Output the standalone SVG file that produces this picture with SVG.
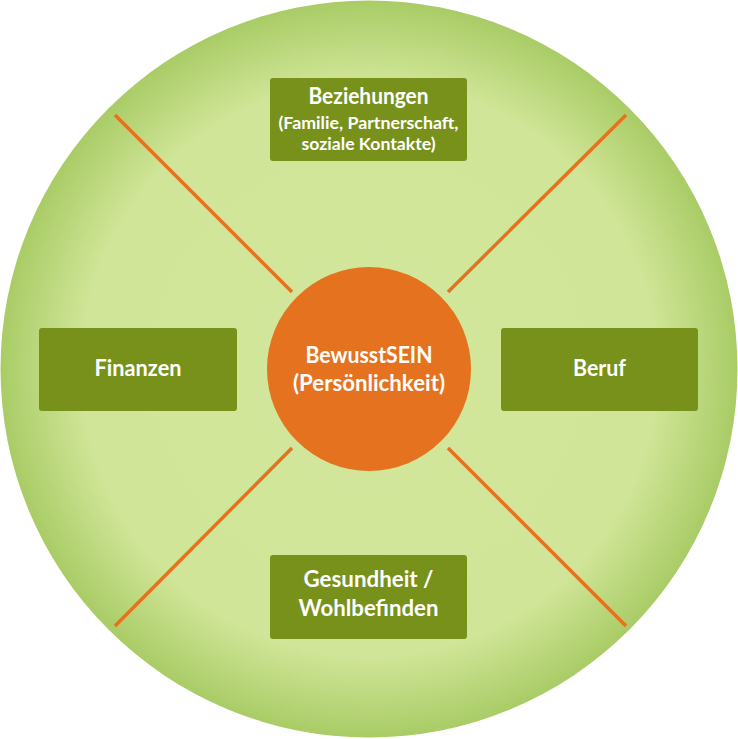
<svg xmlns="http://www.w3.org/2000/svg" width="738" height="739" viewBox="0 0 738 739">
<style>
.box{fill:#77911a;}
.t{font-family:"Lato","Open Sans","Liberation Sans",sans-serif;font-weight:bold;fill:#ffffff;text-anchor:middle;}
.big{font-size:22px;}
.small{font-size:17.5px;}
.ln{stroke:#e5721e;stroke-width:3.5;fill:none;}
</style>
<defs>
<radialGradient id="bg" cx="369" cy="369" r="369" gradientUnits="userSpaceOnUse">
<stop offset="0" stop-color="#d3e79c"/>
<stop offset="0.78" stop-color="#d0e597"/>
<stop offset="1" stop-color="#a9cc66"/>
</radialGradient>
</defs>
<circle id="background" cx="369" cy="369" r="368.5" fill="url(#bg)"/>
<g id="connectors">
<line class="ln" x1="115" y1="115" x2="292" y2="292"/>
<line class="ln" x1="626" y1="115" x2="448" y2="292"/>
<line class="ln" x1="115" y1="626" x2="292" y2="448"/>
<line class="ln" x1="626" y1="626" x2="448" y2="448"/>
</g>
<g id="center">
<circle cx="369" cy="369" r="102" fill="#e5721e"/>
<text class="t big" x="369" y="363" textLength="127" lengthAdjust="spacingAndGlyphs">BewusstSEIN</text>
<text class="t big" x="369" y="391" textLength="152" lengthAdjust="spacingAndGlyphs">(Persönlichkeit)</text>
</g>
<g id="beziehungen">
<rect class="box" x="270" y="78" width="197" height="83" rx="3"/>
<text class="t big" x="368.5" y="104" textLength="120" lengthAdjust="spacingAndGlyphs">Beziehungen</text>
<text class="t small" x="368.5" y="129" textLength="180" lengthAdjust="spacingAndGlyphs">(Familie, Partnerschaft,</text>
<text class="t small" x="368.5" y="150" textLength="134" lengthAdjust="spacingAndGlyphs">soziale Kontakte)</text>
</g>
<g id="finanzen">
<rect class="box" x="39" y="328" width="198" height="83" rx="3"/>
<text class="t big" x="138" y="376" textLength="87" lengthAdjust="spacingAndGlyphs">Finanzen</text>
</g>
<g id="beruf">
<rect class="box" x="501" y="328" width="197" height="83" rx="3"/>
<text class="t big" x="599.5" y="376" textLength="53" lengthAdjust="spacingAndGlyphs">Beruf</text>
</g>
<g id="gesundheit">
<rect class="box" x="270" y="555" width="197" height="84" rx="3"/>
<text class="t big" x="368.5" y="587" textLength="130" lengthAdjust="spacingAndGlyphs">Gesundheit /</text>
<text class="t big" x="368.5" y="616" textLength="140" lengthAdjust="spacingAndGlyphs">Wohlbefinden</text>
</g>
</svg>
